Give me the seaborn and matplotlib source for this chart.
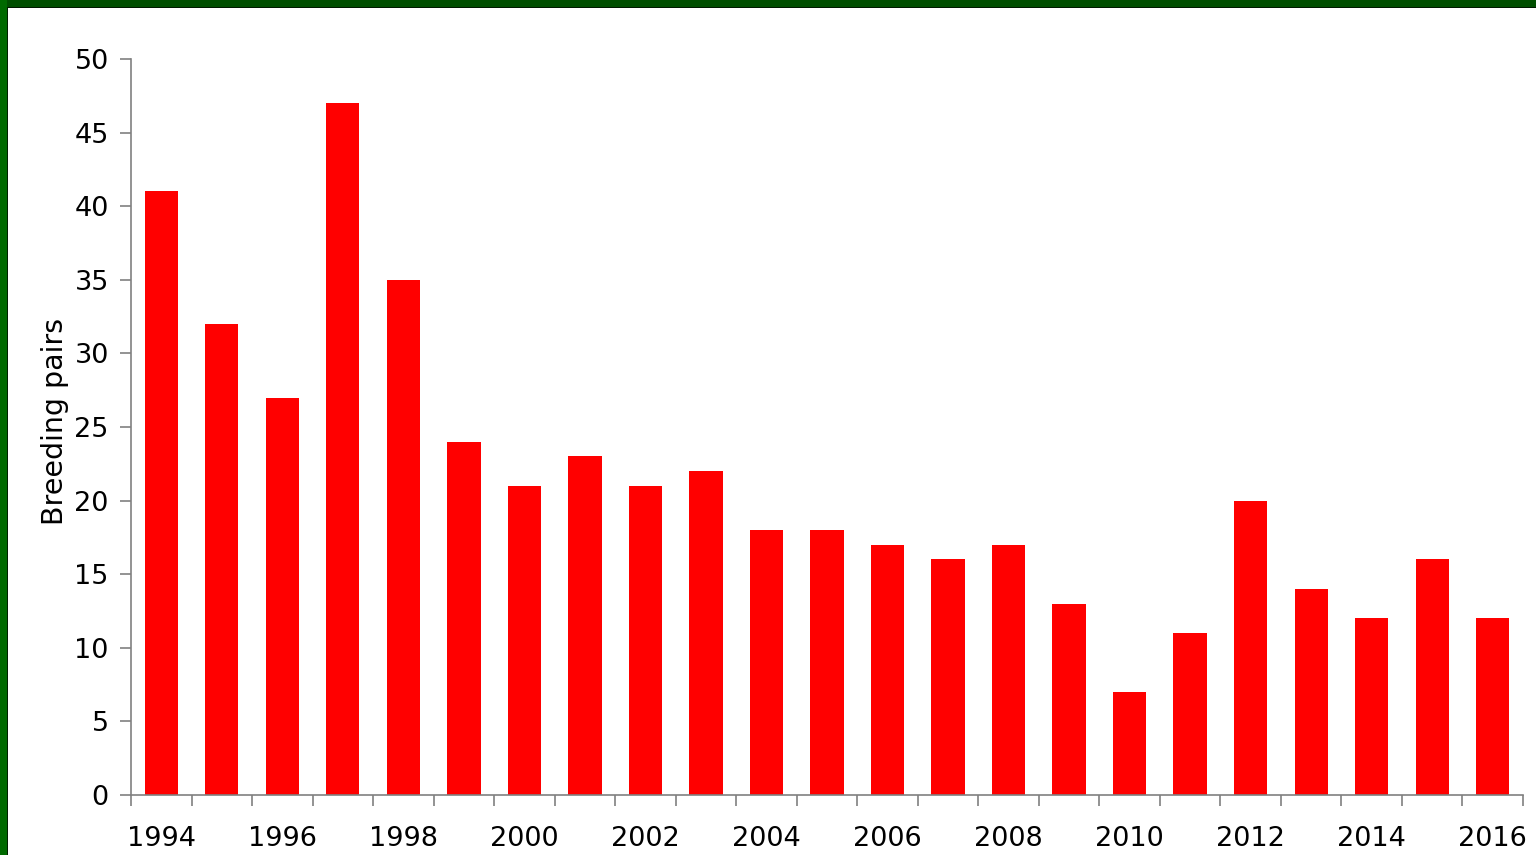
import matplotlib
matplotlib.use("Agg")
import matplotlib.pyplot as plt
import matplotlib.patches as mpatches
import matplotlib.transforms as mtransforms
import seaborn as sns
import pandas as pd
import numpy as np

years = [str(y) for y in range(1994, 2017)]
pairs = [41, 32, 27, 47, 35, 24, 21, 23, 21, 22, 18, 18, 17, 16, 17, 13, 7, 11, 20, 14, 12, 16, 12]
y_ticks = [0, 5, 10, 15, 20, 25, 30, 35, 40, 45, 50]
y_label = "Breeding pairs"

sns.set_theme(style="white")
plt.rcParams['font.family'] = ['DejaVu Sans']

W, H = 1536, 855
fig = plt.figure(figsize=(W / 100, H / 100), dpi=100)
fig.patch.set_facecolor("white")

left, right, top, bottom = 131, 1523, 59, 795
ax = fig.add_axes([left / W, 1 - bottom / H, (right - left) / W, (bottom - top) / H])

df = pd.DataFrame({"year": years, "pairs": pairs})
sns.barplot(data=df, x="year", y="pairs", color="#ff0000", saturation=1, width=0.55, ax=ax, edgecolor="none")

ax.set_xlim(-0.5, len(years) - 0.5)
ax.set_ylim(0, 50)
ax.set_yticks(y_ticks)
ax.set_yticklabels([str(v) for v in y_ticks], fontsize=19.5, color="black")

# x labels every other year at category centres, ticks on category boundaries
ax.set_xticks(range(0, len(years), 2))
ax.set_xticklabels(years[::2], fontsize=19.5, color="black")
ax.set_xticks(np.arange(-0.5, len(years), 1.0), minor=True)
ax.tick_params(axis="x", which="major", bottom=True, length=0, pad=22)
ax.tick_params(axis="x", which="minor", bottom=True, length=8, width=1.2, color="#808080", direction="out")
ax.tick_params(axis="y", which="major", left=True, length=8, width=1.2, color="#808080", direction="out", pad=8)
ax.set_xlabel("")
ax.set_ylabel("")

for s in ["top", "right"]:
    ax.spines[s].set_visible(False)
for s in ["left", "bottom"]:
    ax.spines[s].set_color("#808080")
    ax.spines[s].set_linewidth(1.2)
ax.grid(False)
ax.set_facecolor("white")

# y label (clipped at top like the reference)
t = fig.text(55 / W, 1 - 421 / H, y_label, rotation=90, fontsize=20.5, ha="center", va="center", color="black")
clip = mtransforms.Bbox.from_extents(0, 0, W, H - 319)
t.set_clip_box(mtransforms.TransformedBbox(clip, mtransforms.IdentityTransform()))
t.set_clip_on(True)

# green frame bands (top and left)
fig.patches.append(mpatches.Rectangle((0, 1 - 7 / H), 1, 7 / H, transform=fig.transFigure,
                                      facecolor="#004f00", edgecolor="none", zorder=10))
fig.patches.append(mpatches.Rectangle((0, 1 - 8 / H), 1, 1 / H, transform=fig.transFigure,
                                      facecolor="#001a00", edgecolor="none", zorder=10))
fig.patches.append(mpatches.Rectangle((0, 0), 7 / W, 1, transform=fig.transFigure,
                                      facecolor="#006a00", edgecolor="none", zorder=10))
fig.patches.append(mpatches.Rectangle((7 / W, 0), 1 / W, 1 - 7 / H, transform=fig.transFigure,
                                      facecolor="#002000", edgecolor="none", zorder=10))

fig.savefig("out.png", dpi=100)
